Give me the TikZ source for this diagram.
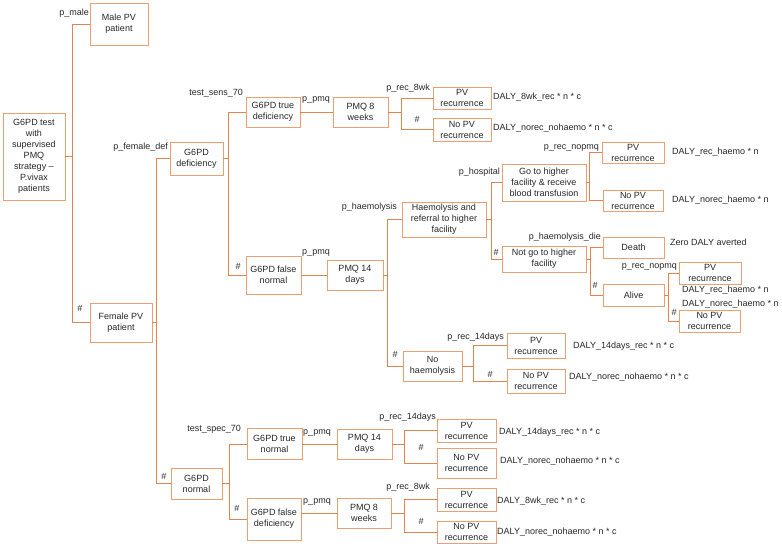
\documentclass[tikz,border=0pt]{standalone}
\usepackage{fontspec}
\setmainfont{Liberation Sans}
\definecolor{boxc}{RGB}{236,160,112}
\definecolor{linec}{RGB}{226,132,78}
\definecolor{txt}{RGB}{40,40,40}
\tikzset{
  box/.style={draw=boxc, line width=0.8pt, fill=white, inner sep=0pt, align=center,
    text=txt, font=\fontsize{9}{11}\selectfont},
  conn/.style={draw=linec, line width=0.8pt},
  lbl/.style={inner sep=0pt, text=txt, font=\fontsize{9}{11}\selectfont, text height=6.5pt, text depth=1.5pt},
}
\newcommand{\bx}[6]{\node[box, minimum width=#3pt, minimum height=#4pt] (#5) at (#1,-#2) {#6};}
\begin{document}
\begin{tikzpicture}[x=1pt,y=1pt]
\useasboundingbox (0,0) rectangle (782,-546);
% boxes
\bx{34}{156.5}{62}{87}{root}{G6PD test\\with\\supervised\\PMQ\\strategy –\\P.vivax\\patients}
\bx{119}{24}{58}{42}{male}{Male PV\\patient}
\bx{121}{322.5}{62}{39}{female}{Female PV\\patient}
\bx{196.5}{158.5}{53}{33}{gdef}{G6PD\\deficiency}
\bx{273}{112}{54}{30}{gtd}{G6PD true\\deficiency}
\bx{360.5}{112}{55}{30}{pmqA}{PMQ 8\\weeks}
\bx{462}{98}{58}{22}{pvA}{PV\\recurrence}
\bx{462}{129.5}{58}{23}{npvA}{No PV\\recurrence}
\bx{273.5}{275}{55}{38}{gfn}{G6PD false\\normal}
\bx{355}{275}{56}{30}{pmqB}{PMQ 14\\days}
\bx{444}{219.5}{84}{35}{haemo}{Haemolysis and\\referral to higher\\facility}
\bx{544}{182.5}{84}{37}{goh}{Go to higher\\facility \& receive\\blood transfusion}
\bx{633}{152.5}{62}{21}{pvB}{PV\\recurrence}
\bx{633}{200.5}{60}{21}{npvB}{No PV\\recurrence}
\bx{544}{259}{84}{26}{notgo}{Not go to higher\\facility}
\bx{633.5}{247.5}{61}{21}{death}{Death}
\bx{633.5}{295}{61}{22}{alive}{Alive}
\bx{710}{273}{62}{22}{pvC}{PV\\recurrence}
\bx{709.5}{321}{61}{22}{npvC}{No PV\\recurrence}
\bx{432.5}{366}{59}{30}{nohaemo}{No\\haemolysis}
\bx{536}{345.5}{58}{25}{pvD}{PV\\recurrence}
\bx{536}{381}{58}{24}{npvD}{No PV\\recurrence}
\bx{196.5}{483.5}{51}{31}{gnorm}{G6PD\\normal}
\bx{274.5}{444}{55}{31}{gtn}{G6PD true\\normal}
\bx{274}{519}{54}{42}{gfd}{G6PD false\\deficiency}
\bx{364.5}{444}{55}{30}{pmqC}{PMQ 14\\days}
\bx{364}{513}{54}{30}{pmqD}{PMQ 8\\weeks}
\bx{466.5}{430.5}{59}{23}{pvE}{PV\\recurrence}
\bx{466.5}{463}{59}{30}{npvE}{No PV\\recurrence}
\bx{466.5}{499.5}{59}{23}{pvF}{PV\\recurrence}
\bx{466.5}{532}{59}{22}{npvF}{No PV\\recurrence}
% junctions
\coordinate (jroot) at (72,-156.5);
\coordinate (jfem) at (156.5,-322.5);
\coordinate (jgdef) at (228,-158.5);
\coordinate (jA) at (401,-112);
\coordinate (jB) at (387,-275);
\coordinate (jhaemo) at (491,-219.5);
\coordinate (jgoh) at (589,-182.5);
\coordinate (jnotgo) at (590,-259);
\coordinate (jalive) at (668,-295);
\coordinate (jnoh) at (473,-366);
\coordinate (jgnorm) at (229,-483.5);
\coordinate (jC) at (404,-444);
\coordinate (jD) at (404,-513);
% connectors
\draw[conn] (root.east) -- (jroot) |- (male.west);
\draw[conn] (jroot) |- (female.west);
\draw[conn] (female.east) -- (jfem) |- (gdef.west);
\draw[conn] (jfem) |- (gnorm.west);
\draw[conn] (gdef.east) -- (jgdef) |- (gtd.west);
\draw[conn] (jgdef) |- (gfn.west);
\draw[conn] (gtd.east) -- (pmqA.west);
\draw[conn] (pmqA.east) -- (jA) |- (pvA.west);
\draw[conn] (jA) |- (npvA.west);
\draw[conn] (gfn.east) -- (pmqB.west);
\draw[conn] (pmqB.east) -- (jB) |- (haemo.west);
\draw[conn] (jB) |- (nohaemo.west);
\draw[conn] (haemo.east) -- (jhaemo) |- (goh.west);
\draw[conn] (jhaemo) |- (notgo.west);
\draw[conn] (goh.east) -- (jgoh) |- (pvB.west);
\draw[conn] (jgoh) |- (npvB.west);
\draw[conn] (notgo.east) -- (jnotgo) |- (death.west);
\draw[conn] (jnotgo) |- (alive.west);
\draw[conn] (alive.east) -- (jalive) |- (pvC.west);
\draw[conn] (jalive) |- (npvC.west);
\draw[conn] (nohaemo.east) -- (jnoh) |- (pvD.west);
\draw[conn] (jnoh) |- (npvD.west);
\draw[conn] (gnorm.east) -- (jgnorm) |- (gtn.west);
\draw[conn] (jgnorm) |- (gfd.west);
\draw[conn] (gtn.east) -- (pmqC.west);
\draw[conn] (gfd.east |- pmqD.west) -- (pmqD.west);
\draw[conn] (pmqC.east) -- (jC) |- (pvE.west);
\draw[conn] (jC) |- (npvE.west);
\draw[conn] (pmqD.east) -- (jD) |- (pvF.west);
\draw[conn] (jD) |- (npvF.west);
% labels
\node[lbl, anchor=east] (l1) at (89,-13) {p\_male};
\node[lbl] (l2) at (80,-309) {\#};
\node[lbl, anchor=east] (l3) at (168,-147) {p\_female\_def};
\node[lbl, anchor=east] (l4) at (243,-93) {test\_sens\_70};
\node[lbl] (l5) at (238,-267) {\#};
\node[lbl] (l6) at (316,-99) {p\_pmq};
\node[lbl, anchor=east] (l7) at (430,-88) {p\_rec\_8wk};
\node[lbl] (l8) at (417,-120) {\#};
\node[lbl, anchor=west] (l9) at (493,-97) {DALY\_8wk\_rec * n * c};
\node[lbl, anchor=west] (l10) at (493,-128) {DALY\_norec\_nohaemo * n * c};
\node[lbl] (l11) at (316,-252) {p\_pmq};
\node[lbl, anchor=east] (l12) at (397,-207) {p\_haemolysis};
\node[lbl, anchor=east] (l13) at (500,-172) {p\_hospital};
\node[lbl, anchor=east] (l14) at (599,-147) {p\_rec\_nopmq};
\node[lbl, anchor=west] (l15) at (672,-152) {DALY\_rec\_haemo * n};
\node[lbl, anchor=west] (l16) at (672,-200) {DALY\_norec\_haemo * n};
\node[lbl] (l17) at (496,-253) {\#};
\node[lbl, anchor=east] (l18) at (601,-237) {p\_haemolysis\_die};
\node[lbl, anchor=west] (l19) at (670,-243) {Zero DALY averted};
\node[lbl, anchor=east] (l20) at (677,-266) {p\_rec\_nopmq};
\node[lbl] (l21) at (595,-286) {\#};
\node[lbl, anchor=west] (l22) at (682,-290) {DALY\_rec\_haemo * n};
\node[lbl, anchor=west] (l23) at (682,-304) {DALY\_norec\_haemo * n};
\node[lbl] (l24) at (674,-313) {\#};
\node[lbl] (l25) at (395,-355) {\#};
\node[lbl, anchor=east] (l26) at (504,-337) {p\_rec\_14days};
\node[lbl] (l27) at (490,-375) {\#};
\node[lbl, anchor=west] (l28) at (573,-346) {DALY\_14days\_rec * n * c};
\node[lbl, anchor=west] (l29) at (569,-377) {DALY\_norec\_nohaemo * n * c};
\node[lbl] (l30) at (164,-477) {\#};
\node[lbl, anchor=east] (l31) at (241,-429) {test\_spec\_70};
\node[lbl] (l32) at (237,-509) {\#};
\node[lbl] (l33) at (317,-432) {p\_pmq};
\node[lbl] (l34) at (317,-501) {p\_pmq};
\node[lbl, anchor=east] (l35) at (436,-417) {p\_rec\_14days};
\node[lbl] (l36) at (421,-448) {\#};
\node[lbl, anchor=west] (l37) at (499,-432) {DALY\_14days\_rec * n * c};
\node[lbl, anchor=west] (l38) at (500,-461) {DALY\_norec\_nohaemo * n * c};
\node[lbl, anchor=east] (l39) at (430,-487) {p\_rec\_8wk};
\node[lbl] (l40) at (421,-522) {\#};
\node[lbl, anchor=west] (l41) at (497,-501) {DALY\_8wk\_rec * n * c};
\node[lbl, anchor=west] (l42) at (497,-532) {DALY\_norec\_nohaemo * n * c};
\end{tikzpicture}
\end{document}
